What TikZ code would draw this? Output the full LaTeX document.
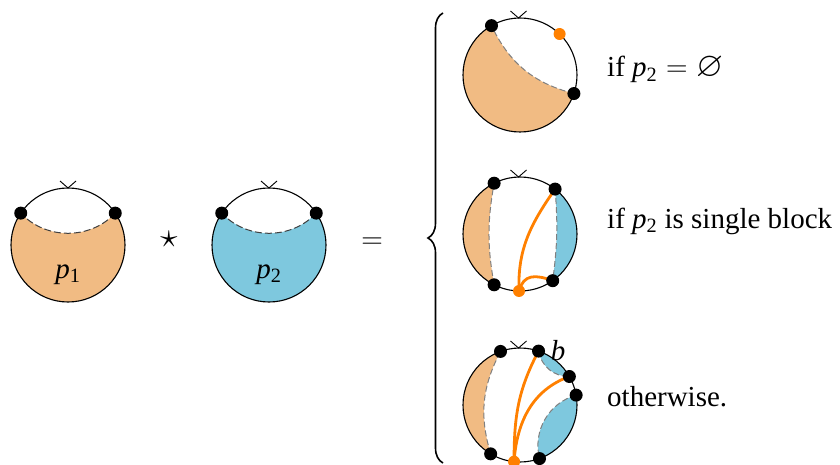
\documentclass[tikz,border=0pt]{standalone}
\usepackage{amssymb}
\usepackage{graphicx}
\usepackage{fontspec}
\setmainfont{Liberation Serif}
\usetikzlibrary{calc,decorations.pathreplacing}
\definecolor{pfill}{RGB}{241,187,131}
\definecolor{bfill}{RGB}{126,200,222}
\definecolor{oline}{RGB}{255,128,0}
\newcommand{\pvar}[1]{\textit{p}\textsubscript{#1}}
\pgfdeclarelayer{back}
\pgfdeclarelayer{mid}
\pgfsetlayers{back,mid,main}
\begin{document}
\begin{tikzpicture}[x=1pt,y=1pt,
  rim/.style={line width=1.1pt},
  bdot/.style={circle,fill=black,inner sep=0pt,minimum size=13pt},
  odot/.style={circle,fill=oline,inner sep=0pt,minimum size=12pt},
  oarc/.style={oline,line width=2.8pt},
  sep/.style={gray,line width=1pt,dash pattern=on 6pt off 3pt},
  sepdark/.style={black!75,line width=1pt,dash pattern=on 7pt off 3pt},
  vtick/.style={line width=0.9pt},
  lbl/.style={font=\fontsize{29}{34}\selectfont,inner sep=0pt},
]
\useasboundingbox (0,0) rectangle (840,464);
\coordinate (c1) at (68,219);
\coordinate (c2) at (269,219);
\coordinate (r1) at (520,389);
\coordinate (r2) at (520,230);
\coordinate (r3) at (520,59);
% dots
\node[bdot] (a1) at ($(c1)+(146:57)$) {};
\node[bdot] (b1) at ($(c1)+(34:57)$) {};
\node[bdot] (a2) at ($(c2)+(146:57)$) {};
\node[bdot] (b2) at ($(c2)+(34:57)$) {};
\node[bdot] (r1a) at ($(r1)+(120:57)$) {};
\node[odot] (r1o) at ($(r1)+(46:57)$) {};
\node[bdot] (r1b) at ($(r1)+(-19:57)$) {};
\node[bdot] (r2a) at ($(r2)+(117:57)$) {};
\node[bdot] (r2b) at ($(r2)+(52:57)$) {};
\node[bdot] (r2c) at ($(r2)+(-55:57)$) {};
\node[bdot] (r2d) at ($(r2)+(243:57)$) {};
\node[odot] (r2o) at ($(r2)+(-91:57)$) {};
\node[bdot] (r3a) at ($(r3)+(110:57)$) {};
\node[bdot] (r3b) at ($(r3)+(71:57)$) {};
\node[bdot] (r3c) at ($(r3)+(30:57)$) {};
\node[bdot] (r3d) at ($(r3)+(10:57)$) {};
\node[bdot] (r3e) at ($(r3)+(-70:57)$) {};
\node[bdot] (r3f) at ($(r3)+(239:57)$) {};
\node[odot] (r3o) at ($(r3)+(-96:57)$) {};
\begin{pgfonlayer}{back}
% left circles
\fill[pfill] (a1.center) arc[start angle=146,end angle=394,radius=57] .. controls ($(c1)+(22,5)$) and ($(c1)+(-22,5)$) .. (a1.center) -- cycle;
\draw[sepdark] (b1.center) .. controls ($(c1)+(22,5)$) and ($(c1)+(-22,5)$) .. (a1.center);
\draw[rim] (c1) circle[radius=57];
\draw[vtick] ($(c1)+(-8,64)$) -- ($(c1)+(0,57)$) -- ($(c1)+(8,64)$);
\fill[bfill] (a2.center) arc[start angle=146,end angle=394,radius=57] .. controls ($(c2)+(22,5)$) and ($(c2)+(-22,5)$) .. (a2.center) -- cycle;
\draw[sepdark] (b2.center) .. controls ($(c2)+(22,5)$) and ($(c2)+(-22,5)$) .. (a2.center);
\draw[rim] (c2) circle[radius=57];
\draw[vtick] ($(c2)+(-8,64)$) -- ($(c2)+(0,57)$) -- ($(c2)+(8,64)$);
% R1
\fill[pfill] (r1a.center) arc[start angle=120,end angle=341,radius=57] to[bend left=25] (r1a.center) -- cycle;
\draw[sep] (r1b.center) to[bend left=25] (r1a.center);
\draw[rim] (r1) circle[radius=57];
\draw[vtick] ($(r1)+(-9.5,64)$) -- ($(r1)+(-1.5,57)$) -- ($(r1)+(6.5,64)$);
% R2
\fill[pfill] (r2a.center) arc[start angle=117,end angle=243,radius=57] to[bend left=10] (r2a.center) -- cycle;
\draw[sep] (r2d.center) to[bend left=10] (r2a.center);
\fill[bfill] (r2c.center) arc[start angle=-55,end angle=52,radius=57] to[bend left=6] (r2c.center) -- cycle;
\draw[sep] (r2b.center) to[bend left=6] (r2c.center);
\draw[rim] (r2) circle[radius=57];
\draw[vtick] ($(r2)+(-9.5,64)$) -- ($(r2)+(-1.5,57)$) -- ($(r2)+(6.5,64)$);
% R3
\fill[pfill] (r3a.center) arc[start angle=110,end angle=239,radius=57] to[bend left=22] (r3a.center) -- cycle;
\draw[sep] (r3f.center) to[bend left=22] (r3a.center);
\fill[bfill] (r3c.center) arc[start angle=30,end angle=71,radius=57] to[bend right=40] (r3c.center) -- cycle;
\draw[sep] (r3b.center) to[bend right=40] (r3c.center);
\fill[bfill] (r3e.center) arc[start angle=-70,end angle=10,radius=57] to[bend right=44] (r3e.center) -- cycle;
\draw[sep] (r3d.center) to[bend right=44] (r3e.center);
\draw[rim] (r3) circle[radius=57];
\draw[vtick] ($(r3)+(-9.5,64)$) -- ($(r3)+(-1.5,57)$) -- ($(r3)+(6.5,64)$);
\end{pgfonlayer}
\begin{pgfonlayer}{mid}
\draw[oarc] (r2o.center) to[out=92,in=-125] (r2b.center);
\draw[oarc] (r2o.center) to[out=75,in=160,looseness=1.3] (r2c.center);
\draw[oarc] (r3o.center) to[out=90,in=-118] (r3b.center);
\draw[oarc] (r3o.center) to[out=86,in=200] (r3c.center);
\end{pgfonlayer}
% labels
\node[lbl,anchor=base] (p1) at (68,186) {\pvar{1}};
\node[lbl,anchor=base] (p2) at (269,186) {\pvar{2}};
\node[lbl] (star) at (169,225) {\scalebox{1.4}{$\star$}};
\node[lbl] (eq) at (372,221) {\scalebox{1.2}{$=$}};
\draw[line width=1.6pt,decorate,decoration={brace,amplitude=15pt}] (443,1) -- (443,451);
\node[lbl,anchor=base west] (t1) at (607,387) {if \pvar{2}\hspace{0.3em}\scalebox{1.2}{$=$}\hspace{0.3em}\scalebox{1.2}{$\varnothing$}};
\node[lbl,anchor=base west] (t2) at (607,236) {if \pvar{2} is single block};
\node[lbl,anchor=base west] (t3) at (607,58) {otherwise.};
\node[lbl] (bl) at (558,113) {\textit{b}};
\end{tikzpicture}
\end{document}
